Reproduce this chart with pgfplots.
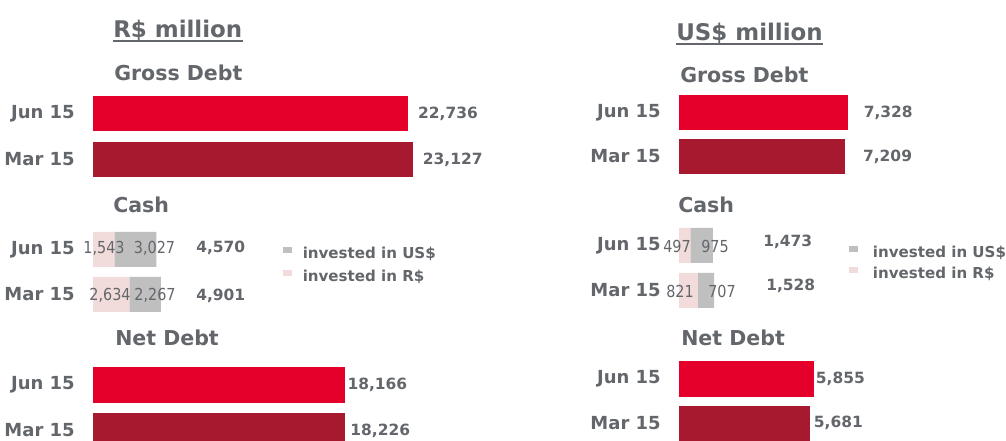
\documentclass[border=0pt]{standalone}
\usepackage{fontspec}
\setmainfont{DejaVu Sans}
\newfontfamily\narrow{DejaVu Sans}[FakeStretch=0.87]
\usepackage{pgfplots}
\pgfplotsset{compat=1.18}

\definecolor{jun}{HTML}{E4002B}
\definecolor{mar}{HTML}{A6192E}
\definecolor{brl}{HTML}{F2DCDB}
\definecolor{usd}{HTML}{BFBFBF}
\definecolor{txt}{HTML}{63666A}

\newcommand\fs[1]{\fontsize{#1}{#1}\selectfont}
\pgfkeys{/pgf/number format/assume math mode=true}

% one picture pixel = 0.75pt; y axis counts pixels from the top
\pgfplotsset{
  panel/.style={scale only axis, height=330.75pt, ymin=0, ymax=441, y dir=reverse,
    xmin=0, clip=false, axis line style={draw=none}, xtick=\empty,
    major tick length=0pt, anchor=south west},
  cashax/.style={hide axis, xbar stacked, bar width=35, bar shift=0pt,
    reverse legend, legend cell align=left,
    legend style={draw=none, fill=none, anchor=north west, inner sep=0pt,
      font=\fs{11.3}\bfseries, text=txt, nodes={inner sep=1pt}},
    legend image code/.code={\path[##1, draw=none] (0pt,0.6pt) rectangle (6.75pt,5pt);}},
  bar/.style={xbar, bar width=35, bar shift=0pt, draw=none, fill=#1, point meta=x},
  tot/.style={nodes near coords, nodes near coords align=horizontal,
    every node near coord/.append style={anchor=west, font=\fs{11.6}\bfseries,
      text=txt, inner sep=0pt, xshift=#1}},
  lbl/.style 2 args={draw=none, mark=none, nodes near coords, point meta=explicit symbolic,
    every node near coord/.append style={anchor=#1, font=#2, text=txt, inner sep=0pt}},
}
\tikzset{ttl/.style={anchor=base west, inner sep=0pt, text=txt, font=\fs{#1}\bfseries}}

\begin{document}
\begin{tikzpicture}
\useasboundingbox (0,0) rectangle (754.5pt,330.75pt);
\clip (0,0) rectangle (754.5pt,330.75pt);

%% ---------------- R$ million ----------------
\begin{axis}[panel, cashax, at={(69.75pt,0pt)}, width=307.5pt, xmax=29603,
  legend style={at={(0.463,0.444)}, row sep=5.5pt, column sep=7pt}]
\addplot[fill=brl, draw=none] coordinates {(1543,249.5) (2634,294.5)};
\addplot[fill=usd, draw=none] coordinates {(3027,249.5) (2267,294.5)};
\legend{invested in R\$, invested in US\$}
\end{axis}

\begin{axis}[panel, at={(69.75pt,0pt)}, width=307.5pt, xmax=29603,
  ytick={114,159.5,249.5,294.5,385,430.5},
  yticklabels={Jun 15,Mar 15,Jun 15,Mar 15,Jun 15,Mar 15},
  yticklabel style={font=\fs{13.5}\bfseries, text=txt, inner sep=0pt, xshift=-13.5pt}]
\addplot[bar=jun, tot=7.5pt] coordinates {(22736,114)};
\addplot[bar=mar, tot=7pt] coordinates {(23127,159.5)};
\addplot[bar=jun, tot=2pt] coordinates {(18166,385)};
\addplot[bar=mar, tot=3.5pt] coordinates {(18226,430.5)};
\addplot[lbl={center}{\narrow\fs{12.4}}] table[meta=t] {
x y t
794 248 1,543
4440 248 3,027
1227 295 2,634
4477 295 2,267
};
\addplot[lbl={west}{\fs{11.6}\bfseries}] table[meta=t] {
x y t
7437 248 4,570
7437 296 4,901
};
\node[ttl=17.2] (tL) at (axis cs:1444,37.5) {R\$ million};
\draw[txt, line width=1.5pt] ([yshift=-2.6pt]tL.base west) -- ([yshift=-2.6pt]tL.base east);
\node[ttl=15.4] at (axis cs:1516,81) {Gross Debt};
\node[ttl=15.4] at (axis cs:1444,213) {Cash};
\node[ttl=15.4] at (axis cs:1588,346) {Net Debt};
\end{axis}

%% ---------------- US$ million ----------------
\begin{axis}[panel, cashax, at={(509.25pt,0pt)}, width=245.25pt, xmax=14217,
  legend style={at={(0.52,0.445)}, row sep=3.5pt, column sep=10pt}]
\addplot[fill=brl, draw=none] coordinates {(497,245.5) (821,290.5)};
\addplot[fill=usd, draw=none] coordinates {(975,245.5) (707,290.5)};
\legend{invested in R\$, invested in US\$}
\end{axis}

\begin{axis}[panel, at={(509.25pt,0pt)}, width=245.25pt, xmax=14217,
  ytick={113,156.5,245.5,290.5,379,423},
  yticklabels={Jun 15,Mar 15,Jun 15,Mar 15,Jun 15,Mar 15},
  yticklabel style={font=\fs{13.5}\bfseries, text=txt, inner sep=0pt, xshift=-13.5pt}]
\addplot[bar=jun, tot=12pt] coordinates {(7328,113)};
\addplot[bar=mar, tot=13.5pt] coordinates {(7209,156.5)};
\addplot[bar=jun, tot=1.5pt] coordinates {(5855,379)};
\addplot[bar=mar, tot=3pt] coordinates {(5681,423)};
\addplot[lbl={center}{\narrow\fs{12.4}}] table[meta=t] {
x y t
-87 246 497
1565 246 975
43 291 821
1870 291 707
};
\addplot[lbl={west}{\fs{11.6}\bfseries}] table[meta=t] {
x y t
3652 242 1,473
3783 285.5 1,528
};
\node[ttl=17.2] (tR) at (axis cs:-130,41) {US\$ million};
\draw[txt, line width=1.5pt] ([yshift=-2.2pt]tR.base west) -- ([yshift=-2.2pt]tR.base east);
\node[ttl=15.4] at (axis cs:43,83) {Gross Debt};
\node[ttl=15.4] at (axis cs:-43,213) {Cash};
\node[ttl=15.4] at (axis cs:87,346) {Net Debt};
\end{axis}
\end{tikzpicture}
\end{document}
